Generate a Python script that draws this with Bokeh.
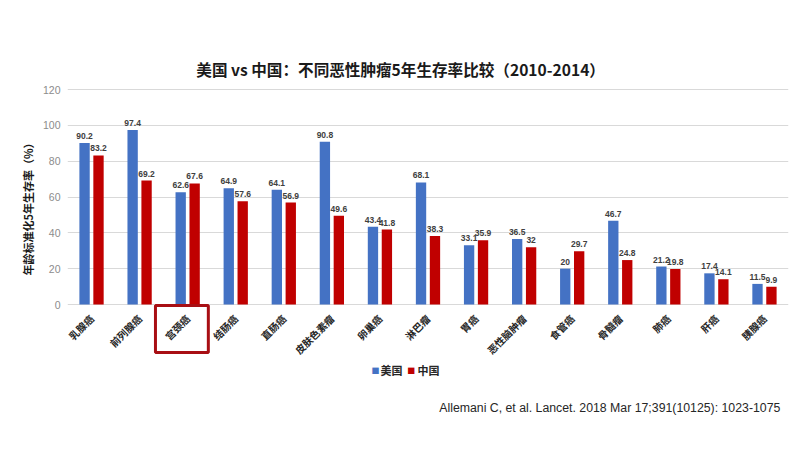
from math import pi
from bokeh.plotting import figure
from bokeh.models import (FactorRange, Range1d, FixedTicker, Label, BoxAnnotation,
                          ColumnDataSource, Title)
from bokeh.transform import dodge
from bokeh.core.properties import value
from bokeh.embed import file_html
from bokeh.resources import INLINE

categories = ["乳腺癌", "前列腺癌", "宫颈癌", "结肠癌", "直肠癌", "皮肤色素瘤", "卵巢癌",
              "淋巴瘤", "胃癌", "恶性脑肿瘤", "食管癌", "骨髓瘤", "肺癌", "肝癌", "胰腺癌"]
usa = [90.2, 97.4, 62.6, 64.9, 64.1, 90.8, 43.4, 68.1, 33.1, 36.5, 20, 46.7, 21.2, 17.4, 11.5]
china = [83.2, 69.2, 67.6, 57.6, 56.9, 49.6, 41.8, 38.3, 35.9, 32, 29.7, 24.8, 19.8, 14.1, 9.9]
y_ticks = [0, 20, 40, 60, 80, 100, 120]
series_names = ["美国", "中国"]
title_text = "美国 vs 中国：不同恶性肿瘤5年生存率比较（2010-2014）"
y_label = "年龄标准化5年生存率（%）"
citation = "Allemani C, et al. Lancet. 2018 Mar 17;391(10125): 1023-1075"
highlight = "宫颈癌"

BLUE = "#4472C4"
RED = "#C00000"
CJK = "Noto Sans CJK SC"
W, H = 792, 445
# frame spans the full height so that the title, legend and note stay inside it
PX = 215 / 120.0                      # pixels per percentage point
Y_TOP = 120 + 89 / PX
Y_BOT = -(H - 304) / PX

src = ColumnDataSource(dict(
    cat=categories, us=usa, cn=china,
    us_t=[f"{v:g}" for v in usa], cn_t=[f"{v:g}" for v in china],
))

p = figure(width=W, height=H, x_range=FactorRange(*categories), y_range=Range1d(Y_BOT, Y_TOP),
           output_backend="svg", toolbar_location=None,
           min_border_left=67, min_border_right=4, min_border_top=0, min_border_bottom=0)
p.outline_line_color = None
p.background_fill_color = "white"

off = 0.145
bw = 0.215
p.vbar(x=dodge("cat", -off, range=p.x_range), top="us", width=bw, source=src,
       fill_color=BLUE, line_color=None)
p.vbar(x=dodge("cat", off, range=p.x_range), top="cn", width=bw, source=src,
       fill_color=RED, line_color=None)

for fld, tfld, o in (("us", "us_t", -off), ("cn", "cn_t", off)):
    p.text(x=dodge("cat", o, range=p.x_range), y=fld, text=tfld, source=src,
           text_align="center", text_baseline="bottom", y_offset=-4,
           text_font=value("Liberation Sans"), text_font_size="8.5px",
           text_font_style="bold", text_color="#404040")

# axes
p.yaxis.ticker = FixedTicker(ticks=y_ticks)
p.yaxis.bounds = (0, 120)
p.yaxis.axis_line_color = None
p.yaxis.major_tick_line_color = None
p.yaxis.minor_tick_line_color = None
p.yaxis.major_tick_out = 0
p.yaxis.major_tick_in = 0
p.yaxis.minor_tick_out = 0
p.yaxis.major_label_text_color = "#8c8c8c"
p.yaxis.major_label_text_font = "Liberation Sans"
p.yaxis.major_label_text_font_size = "10.5px"
p.yaxis.major_label_standoff = 7

# y-axis title, placed in the left panel next to the axis
p.add_layout(Title(text=y_label, align="right", offset=137, standoff=8,
                   text_font=CJK, text_font_size="11px", text_font_style="bold",
                   text_color="#1a1a1a"), "left")

p.xaxis.fixed_location = 0
p.xaxis.axis_line_color = None
p.xaxis.major_tick_line_color = None
p.xaxis.minor_tick_line_color = None
p.xaxis.major_label_orientation = pi / 4
p.xaxis.major_label_text_font = CJK
p.xaxis.major_label_text_font_size = "10px"
p.xaxis.major_label_text_font_style = "bold"
p.xaxis.major_label_text_color = "#262626"
p.xaxis.major_label_standoff = 6

p.xgrid.grid_line_color = None
p.ygrid.grid_line_color = "#d9d9d9"
p.ygrid.grid_line_width = 1

# title
p.add_layout(Label(x=6.93, y=131.7, text=title_text, text_align="center", text_baseline="middle",
                   text_font=CJK, text_font_size="15.6px", text_font_style="bold",
                   text_color="#1a1a1a"))

# legend (manual)
LY = -36.8
p.add_layout(Label(x=6.41, y=LY, text="■", text_align="center", text_baseline="middle",
                   text_font=CJK, text_font_size="8px", text_color=BLUE))
p.add_layout(Label(x=6.51, y=LY, text=series_names[0], text_align="left", text_baseline="middle",
                   text_font=CJK, text_font_size="11px", text_font_style="bold", text_color="#262626"))
p.add_layout(Label(x=7.15, y=LY, text="■", text_align="center", text_baseline="middle",
                   text_font=CJK, text_font_size="8px", text_color=RED))
p.add_layout(Label(x=7.28, y=LY, text=series_names[1], text_align="left", text_baseline="middle",
                   text_font=CJK, text_font_size="11px", text_font_style="bold", text_color="#262626"))

# citation
p.add_layout(Label(x=14.83, y=-58.0, text=citation, text_align="right", text_baseline="middle",
                   text_font="Liberation Sans", text_font_size="12.3px", text_color="#262626"))

# highlight box around the cervical cancer label
hi = categories.index(highlight)
p.add_layout(BoxAnnotation(left=hi - 0.17, right=hi + 0.93, top=-0.6, bottom=-26.8,
                           fill_alpha=0, line_color="#A80F14", line_alpha=1, line_width=3))

open("out.html", "w").write(file_html(p, INLINE))
